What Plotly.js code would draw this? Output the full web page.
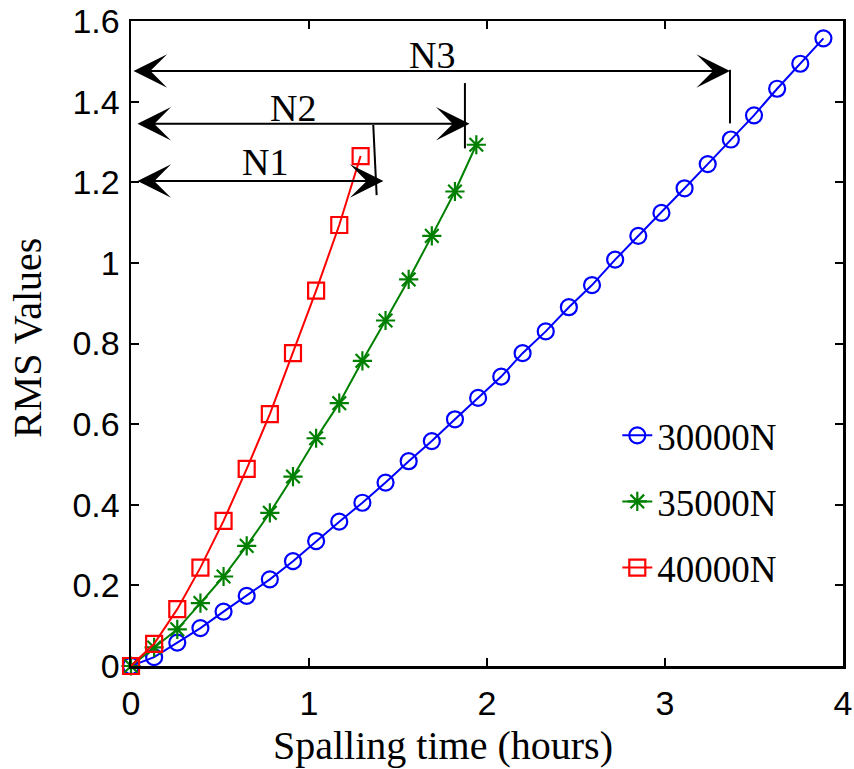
<!DOCTYPE html>
<html>
<head>
<meta charset="utf-8">
<script src="https://cdn.plot.ly/plotly-3.0.1.min.js"></script>
<style>
  html, body { margin: 0; padding: 0; background: #fff; }
  #chart { width: 854px; height: 769px; }
</style>
</head>
<body>
<div id="chart"></div>
<script>
// Spalling time (hours) for each load
const time30 = [0, 0.13, 0.26, 0.39, 0.52, 0.65, 0.78, 0.91, 1.04, 1.17, 1.30, 1.43, 1.56, 1.69, 1.82, 1.95,
                2.08, 2.20, 2.33, 2.46, 2.59, 2.72, 2.85, 2.98, 3.11, 3.24, 3.37, 3.50, 3.63, 3.76, 3.89];
const time35 = [0, 0.13, 0.26, 0.39, 0.52, 0.65, 0.78, 0.91, 1.04, 1.17, 1.30, 1.43, 1.56, 1.69, 1.82, 1.94];
const time40 = [0, 0.13, 0.26, 0.39, 0.52, 0.65, 0.78, 0.91, 1.04, 1.17, 1.29];

// RMS values
const rms30 = [0, 0.022, 0.058, 0.094, 0.135, 0.174, 0.215, 0.260, 0.310, 0.358, 0.405, 0.455, 0.508, 0.558,
               0.612, 0.665, 0.718, 0.776, 0.830, 0.890, 0.945, 1.008, 1.067, 1.124, 1.185, 1.245, 1.306,
               1.366, 1.432, 1.494, 1.557];
const rms35 = [0, 0.046, 0.091, 0.156, 0.222, 0.298, 0.380, 0.470, 0.565, 0.652, 0.757, 0.857, 0.959,
               1.067, 1.177, 1.293];
const rms40 = [0, 0.055, 0.141, 0.244, 0.360, 0.489, 0.625, 0.776, 0.931, 1.094, 1.265];

const seriesNames = ['30000N', '35000N', '40000N'];
const xTicks = [0, 1, 2, 3, 4];
const yTicks = [0, 0.2, 0.4, 0.6, 0.8, 1, 1.2, 1.4, 1.6];

const serif = '"Liberation Serif", "Times New Roman", Times, serif';
const sans = '"Liberation Sans", Arial, Helvetica, sans-serif';

const traces = [
  {
    x: time30, y: rms30, name: seriesNames[0], legendgroup: 'a',
    mode: 'lines+markers', cliponaxis: false,
    line: { color: '#0000ff', width: 2 },
    marker: { symbol: 'circle-open', size: 16, color: '#0000ff', line: { width: 2.2, color: '#0000ff' } }
  },
  {
    x: time35, y: rms35, name: seriesNames[1], legendgroup: 'b',
    mode: 'lines+markers', cliponaxis: false,
    line: { color: '#008000', width: 2 },
    marker: { symbol: 'asterisk-open', size: 16, color: '#008000', line: { width: 2.2, color: '#008000' } }
  },
  {
    x: time40, y: rms40, name: seriesNames[2], legendgroup: 'c',
    mode: 'lines+markers', cliponaxis: false,
    line: { color: '#ff0000', width: 2 },
    marker: { symbol: 'square-open', size: 16, color: '#ff0000', line: { width: 2.2, color: '#ff0000' } }
  }
];

function dblArrow(xl, xr, y) {
  return {
    x: xr, y: y, ax: xl, ay: y, xref: 'x', yref: 'y', axref: 'x', ayref: 'y',
    text: '', showarrow: true, arrowside: 'end+start',
    arrowhead: 3, startarrowhead: 3, arrowsize: 2.8, startarrowsize: 2.8,
    arrowwidth: 2, arrowcolor: '#000', standoff: 0, startstandoff: 0
  };
}
function label(t, x, y) {
  return { x: x, y: y, xref: 'x', yref: 'y', text: t, showarrow: false,
           font: { family: serif, size: 38, color: '#000' } };
}

const layout = {
  width: 854, height: 769,
  margin: { l: 131, r: 11, t: 21, b: 103 },
  paper_bgcolor: '#fff', plot_bgcolor: '#fff',
  showlegend: true,
  legend: {
    x: 0.683, y: 0.405, xanchor: 'left', yanchor: 'top',
    bgcolor: 'rgba(0,0,0,0)', borderwidth: 0,
    font: { family: serif, size: 37, color: '#000' },
    tracegroupgap: 15, itemwidth: 30
  },
  xaxis: {
    range: [0, 4], tickvals: xTicks, ticktext: xTicks.map(String),
    showgrid: false, zeroline: false,
    showline: true, linecolor: '#000', linewidth: 2.5, mirror: 'ticks',
    ticks: 'inside', ticklen: 8, tickwidth: 2, tickcolor: '#000',
    tickfont: { family: sans, size: 34, color: '#000' },
    ticklabelstandoff: 6
  },
  yaxis: {
    range: [0, 1.6], tickvals: yTicks, ticktext: yTicks.map(String),
    showgrid: false, zeroline: false,
    showline: true, linecolor: '#000', linewidth: 2.5, mirror: 'ticks',
    ticks: 'inside', ticklen: 8, tickwidth: 2, tickcolor: '#000',
    tickfont: { family: sans, size: 34, color: '#000' },
    ticklabelstandoff: 2
  },
  shapes: [
    { type: 'line', xref: 'x', yref: 'y', x0: 1.361, y0: 1.342, x1: 1.380, y1: 1.168, line: { color: '#000', width: 2 } },
    { type: 'line', xref: 'x', yref: 'y', x0: 1.876, y0: 1.446, x1: 1.876, y1: 1.284, line: { color: '#000', width: 2 } },
    { type: 'line', xref: 'x', yref: 'y', x0: 3.365, y0: 1.479, x1: 3.365, y1: 1.346, line: { color: '#000', width: 2 } }
  ],
  annotations: [
    dblArrow(0.028, 1.418, 1.203),
    dblArrow(0.028, 1.902, 1.345),
    dblArrow(0.006, 3.365, 1.476),
    label('N1', 0.753, 1.251),
    label('N2', 0.912, 1.384),
    label('N3', 1.689, 1.516),
    { text: 'Spalling time (hours)', xref: 'paper', yref: 'paper', x: 0.438, y: -0.1225,
      xanchor: 'center', yanchor: 'middle', showarrow: false,
      font: { family: serif, size: 40, color: '#000' } },
    { text: 'RMS Values', xref: 'paper', yref: 'paper', x: -0.146, y: 0.5085, textangle: -90,
      xanchor: 'center', yanchor: 'middle', showarrow: false,
      font: { family: serif, size: 40, color: '#000' } }
  ]
};

Plotly.newPlot('chart', traces, layout, { displayModeBar: false, staticPlot: true });
</script>
</body>
</html>
